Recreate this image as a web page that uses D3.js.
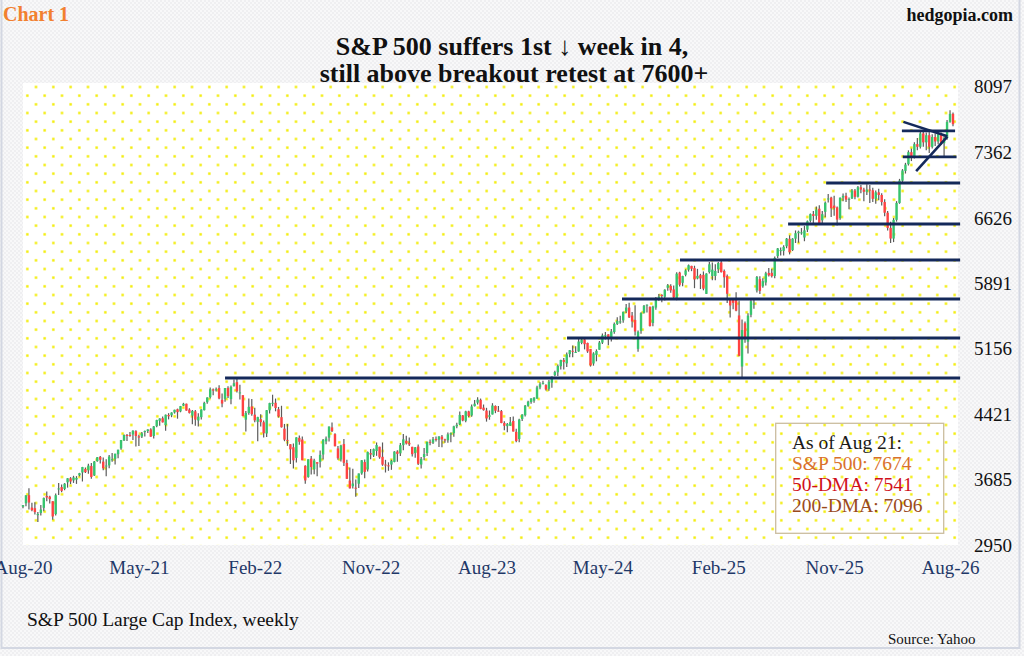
<!DOCTYPE html>
<html>
<head>
<meta charset="utf-8">
<script src="https://cdn.jsdelivr.net/npm/d3@7/dist/d3.min.js"></script>
<style>
  html, body { margin: 0; padding: 0; background: #f6f6f7; }
  svg { display: block; }
  text { font-family: "Liberation Serif", "Times New Roman", serif; }
</style>
</head>
<body>
<svg id="chart" width="1024" height="656"></svg>
<script>
// ---------------- DATA ----------------
// Weekly bars, first week ending 2020-08-21, last week ending 2026-08-21
const firstWeek = "2020-08-21";

const opens = [3380,3418,3509,3370,3363,3285,3310,3367,3500,3493,
3441,3297,3583,3600,3579,3654,3699,3675,3684,3733,
3764,3803,3788,3836,3731,3892,3939,3886,3842,3844,
3913,3917,3969,4034,4124,4185,4185,4191,4228,4170,
4168,4217,4230,4248,4174,4284,4344,4373,4297,4410,
4406,4438,4474,4450,4514,4536,4470,4403,4450,4348,
4385,4464,4553,4610,4697,4689,4712,4579,4592,4713,
4588,4733,4778,4655,4632,4357,4432,4505,4413,4333,
4363,4328,4202,4462,4541,4547,4474,4385,4256,4130,
4081,4047,3928,4153,4134,3839,3714,3920,3800,3880,
3883,3966,4113,4155,4270,4195,4034,3910,4083,3871,
3674,3610,3593,3638,3754,3881,3798,3982,3956,4005,
4053,3940,3853,3844,3853,3883,3999,3979,4071,4120,
4096,4052,3982,4055,3853,3938,3982,4108,4098,4140,
4132,4167,4136,4126,4191,4205,4282,4305,4405,4344,
4450,4404,4509,4548,4580,4492,4459,4389,4415,4511,
4458,4453,4320,4284,4289,4342,4220,4140,4364,4407,
4512,4555,4570,4593,4719,4759,4745,4703,4772,4856,
4889,4957,5026,4989,5093,5130,5111,5123,5219,5258,
5218,5150,4987,5084,5142,5222,5305,5315,5283,5341,
5431,5459,5472,5572,5615,5526,5476,5152,5354,5557,
5637,5624,5442,5615,5712,5757,5737,5838,5858,5819,
5723,6008,5893,5983,6040,6083,6058,5942,5979,5983,
5769,6014,5969,5970,6046,6122,6026,5969,5705,5706,
5719,5527,4953,5440,5232,5534,5655,5808,5934,5854,
5897,6004,6005,5970,6193,6255,6252,6304,6388,6261,
6389,6450,6457,6402,6490,6590,6664,6645,6725,6595,
6690,6830,6850,6760,6740,6620,6850,6870,6830,6840,
6930,6860,6966,6940,6915,6940,6932,6836,6909,6879,
6800,6680,6510,6390,6600,6790,7040,7150,7225,7360,
7300,7450,7420,7570,7470,7550,7420,7530,7480,7560,
7460,7520,7700,7790];

const highs = [3399,3509,3588,3425,3429,3321,3398,3482,3550,3502,
3441,3529,3645,3629,3645,3700,3712,3727,3723,3760,
3827,3819,3861,3870,3894,3937,3950,3931,3914,3960,
3983,3975,4020,4130,4191,4195,4218,4238,4238,4187,
4219,4234,4249,4262,4286,4356,4372,4393,4415,4430,
4440,4469,4481,4511,4546,4537,4486,4466,4465,4429,
4475,4559,4608,4718,4708,4718,4744,4652,4713,4731,
4741,4808,4819,4749,4632,4454,4595,4590,4490,4390,
4417,4347,4465,4546,4637,4594,4500,4513,4309,4308,
4081,4090,4160,4178,4168,3845,3913,3950,3918,3880,
4012,4140,4167,4281,4325,4204,4062,4076,4140,3907,
3820,3807,3685,3753,3905,3911,4000,4029,4034,4101,
4053,4101,3906,3878,3907,4003,4015,4095,4195,4176,
4156,4052,4050,4079,3939,4040,4110,4133,4163,4169,
4170,4186,4143,4213,4213,4290,4323,4449,4408,4458,
4456,4528,4578,4608,4594,4527,4490,4460,4542,4517,
4511,4466,4338,4319,4386,4393,4256,4366,4418,4521,
4569,4598,4610,4739,4778,4793,4755,4802,4842,4907,
4975,5030,5048,5111,5140,5189,5180,5262,5265,5264,
5222,5150,5114,5146,5240,5325,5342,5315,5376,5448,
5506,5524,5570,5656,5670,5566,5640,5358,5564,5644,
5651,5626,5636,5734,5767,5766,5822,5879,5878,5863,
6013,6018,5972,6045,6099,6085,6085,6050,5994,6021,
6001,6128,6120,6101,6127,6147,6044,5987,5712,5715,
5787,5695,5482,5460,5551,5700,5720,5969,5968,5944,
6017,6059,6051,6188,6284,6290,6316,6395,6427,6395,
6481,6479,6508,6533,6593,6672,6699,6750,6765,6700,
6807,6890,6860,6870,6750,6850,6895,6905,6850,6945,
6945,6980,6990,6960,7000,6990,6960,6930,6950,6900,
6830,6700,6580,6620,6810,7060,7170,7240,7380,7400,
7470,7520,7600,7610,7580,7590,7560,7570,7580,7580,
7540,7720,7830,7805];

const lows = [3363,3386,3349,3330,3292,3209,3280,3330,3441,3415,
3234,3280,3511,3543,3565,3594,3633,3647,3636,3720,
3663,3757,3750,3694,3725,3885,3865,3789,3723,3812,
3885,3853,3923,4020,4118,4118,4165,4128,4056,4061,
4152,4168,4208,4165,4145,4271,4290,4325,4233,4360,
4385,4425,4368,4440,4509,4458,4427,4305,4289,4279,
4360,4460,4537,4595,4630,4672,4585,4495,4558,4600,
4531,4729,4662,4582,4396,4223,4411,4401,4327,4115,
4279,4157,4161,4425,4507,4451,4381,4268,4115,4063,
3859,3810,3875,4074,3900,3637,3705,3741,3743,3721,
3819,3911,4080,4113,4219,4058,3907,3886,3838,3693,
3585,3584,3491,3590,3738,3698,3775,3914,3938,3951,
3918,3839,3764,3783,3794,3878,3885,3948,4015,4079,
4060,3944,3929,3847,3809,3900,3950,4069,4085,4113,
4049,4048,4099,4099,4103,4166,4260,4298,4340,4329,
4385,4389,4505,4528,4474,4458,4335,4356,4415,4430,
4447,4317,4238,4216,4286,4223,4104,4103,4342,4393,
4501,4537,4546,4593,4699,4751,4683,4682,4714,4845,
4846,4919,4920,4947,5057,5058,5104,5118,5204,5146,
5107,4953,4963,5012,5142,5205,5256,5192,5234,5321,
5420,5433,5445,5555,5497,5391,5303,5119,5322,5550,
5560,5403,5406,5590,5691,5674,5696,5805,5783,5706,
5697,5853,5854,5966,6019,6024,5833,5932,5824,5809,
5773,5999,5923,5923,6004,6009,5837,5667,5505,5597,
5573,5069,4835,5220,5101,5506,5603,5785,5767,5837,
5862,5964,5953,5944,6171,6201,6201,6280,6212,6250,
6340,6343,6433,6360,6464,6569,6551,6600,6550,6551,
6630,6795,6631,6646,6538,6600,6810,6800,6720,6835,
6830,6850,6900,6810,6880,6790,6800,6780,6820,6760,
6640,6480,6340,6350,6580,6780,7010,7120,7210,7260,
7290,7380,7400,7420,7380,7350,7400,7430,7450,7440,
7310,7500,7690,7650];

const closes = [3397,3508,3427,3341,3319,3298,3348,3477,3484,3465,
3270,3509,3585,3558,3638,3699,3663,3709,3703,3756,
3825,3768,3841,3714,3887,3935,3907,3811,3842,3943,
3913,3975,4020,4129,4185,4180,4181,4233,4174,4156,
4204,4230,4247,4166,4281,4352,4370,4327,4412,4395,
4437,4468,4442,4509,4535,4459,4433,4455,4357,4391,
4471,4545,4605,4698,4683,4698,4595,4538,4712,4621,
4726,4766,4677,4663,4398,4432,4501,4419,4349,4385,
4329,4204,4463,4543,4546,4488,4393,4272,4132,4123,
4024,3901,4158,4109,3901,3675,3912,3825,3899,3863,
3962,4130,4145,4280,4228,4058,3924,4067,3873,3693,
3586,3640,3583,3753,3901,3771,3993,3965,4026,4072,
3934,3852,3845,3840,3895,3999,3973,4071,4136,4090,
4079,3970,4046,3862,3917,3971,4109,4105,4138,4134,
4169,4136,4124,4192,4205,4282,4299,4410,4348,4450,
4399,4505,4536,4582,4478,4464,4370,4406,4516,4457,
4450,4320,4288,4309,4328,4224,4117,4358,4415,4514,
4559,4595,4604,4719,4755,4770,4697,4784,4840,4891,
4959,5027,5006,5089,5137,5124,5117,5234,5254,5204,
5123,4967,5100,5128,5223,5303,5305,5278,5347,5432,
5465,5460,5567,5615,5505,5459,5347,5344,5554,5635,
5648,5408,5626,5703,5738,5751,5815,5865,5808,5729,
5996,5871,5969,6032,6090,6051,5931,5971,5942,5827,
5997,6101,6041,6026,6115,6013,5955,5770,5639,5668,
5581,5074,5363,5283,5525,5687,5660,5958,5803,5912,
6000,5977,5968,6173,6279,6260,6297,6389,6238,6389,
6450,6467,6460,6482,6584,6664,6644,6716,6553,6664,
6792,6840,6729,6734,6603,6849,6870,6827,6834,6930,
6858,6966,6940,6915,6939,6932,6836,6909,6879,6800,
6680,6510,6390,6600,6790,7040,7155,7220,7360,7300,
7450,7420,7570,7470,7550,7420,7530,7480,7560,7460,
7520,7700,7790,7674];

// axis labels
const yTicks = [2950, 3685, 4421, 5156, 5891, 6626, 7362, 8097];
const xTickLabels = ["Aug-20","May-21","Feb-22","Nov-22","Aug-23","May-24","Feb-25","Nov-25","Aug-26"];
const xTickEvery = 39; // weeks between labels

// horizontal breakout / support levels: value and week index where drawn from
const levelValues = [4825, 5274, 5711, 6149, 6554, 7014];
const levelStarts = [68, 183.1, 201.6, 221.1, 257.5, 270.3];
// consolidation box (top, bottom) and triangle
const boxValues = [7598, 7306];
const boxStarts = [295.8, 296.1];
const boxEnds = [313.7, 314.2];
const triangleLines = [
  [[296.3, 7700], [311.1, 7538]],
  [[300.6, 7148], [311.1, 7533]]
];

const legendLines = [
  {text: "As of Aug 21:", color: "#1a1a1a"},
  {text: "S&P 500: 7674", color: "#d9712c"},
  {text: "50-DMA: 7541", color: "#d0101a"},
  {text: "200-DMA: 7096", color: "#9a4a1c"}
];

// ---------------- CHART ----------------
const W = 1024, H = 656;
const plot = {left: 23, right: 958, top: 83, bottom: 545};
const svg = d3.select("#chart");
const defs = svg.append("defs");

// page background texture
const bg = defs.append("pattern").attr("id", "bgpat")
  .attr("patternUnits", "userSpaceOnUse").attr("width", 4).attr("height", 4);
bg.append("rect").attr("width", 4).attr("height", 4).attr("fill", "#f8f8f9");
bg.append("rect").attr("width", 2).attr("height", 2).attr("fill", "#efeff1");
bg.append("rect").attr("x", 2).attr("y", 2).attr("width", 2).attr("height", 2).attr("fill", "#efeff1");

// plot-area yellow dot grid
const step = 17.333;
const dots = defs.append("pattern").attr("id", "dotpat")
  .attr("patternUnits", "userSpaceOnUse")
  .attr("x", 23).attr("y", 82.667).attr("width", step).attr("height", step);
dots.append("rect").attr("x", 11.8).attr("y", 3.133).attr("width", 2.4).attr("height", 2.4).attr("fill", "#f2ec00");
dots.append("rect").attr("x", 3.133).attr("y", 11.8).attr("width", 2.4).attr("height", 2.4).attr("fill", "#f2ec00");

svg.append("rect").attr("width", W).attr("height", H).attr("fill", "url(#bgpat)");
svg.append("rect").attr("x", 1.5).attr("y", -5).attr("width", 1018).attr("height", 653)
  .attr("fill", "none").attr("stroke", "#d3d7e2").attr("stroke-width", 2);

svg.append("rect").attr("x", plot.left).attr("y", plot.top)
  .attr("width", plot.right - plot.left).attr("height", plot.bottom - plot.top)
  .attr("fill", "#ffffff");
svg.append("rect").attr("x", plot.left).attr("y", plot.top)
  .attr("width", plot.right - plot.left).attr("height", plot.bottom - plot.top)
  .attr("fill", "url(#dotpat)");

const n = closes.length;
const x = d3.scaleLinear().domain([0, n - 1]).range([23, 953]);
const y = d3.scaleLinear().domain([2950, 8097]).range([545, 86.5]);

const weekDate = i => d3.timeDay.offset(d3.timeParse("%Y-%m-%d")(firstWeek), 7 * i);

// bars
const bars = svg.append("g");
const idx = d3.range(n);
bars.selectAll("line.wick").data(idx).join("line")
  .attr("class", "wick")
  .attr("x1", i => x(i)).attr("x2", i => x(i))
  .attr("y1", i => y(Math.max(highs[i], opens[i], closes[i])))
  .attr("y2", i => y(Math.min(lows[i], opens[i], closes[i])))
  .attr("stroke", "#5b5b5b").attr("stroke-width", 1.2);
bars.selectAll("rect.body").data(idx).join("rect")
  .attr("class", "body")
  .attr("x", i => x(i) - 1.2).attr("width", 2.4)
  .attr("y", i => y(Math.max(opens[i], closes[i])))
  .attr("height", i => Math.max(1, y(Math.min(opens[i], closes[i])) - y(Math.max(opens[i], closes[i]))))
  .attr("fill", i => closes[i] >= opens[i] ? "#36c46e" : "#ff4242");

// support / resistance lines
const lines = svg.append("g").attr("stroke", "#14295a").attr("stroke-linecap", "butt");
levelValues.forEach((v, k) => {
  lines.append("line")
    .attr("x1", x(levelStarts[k])).attr("x2", x(315.4))
    .attr("y1", y(v)).attr("y2", y(v)).attr("stroke-width", 3);
});
boxValues.forEach((v, k) => {
  lines.append("line")
    .attr("x1", x(boxStarts[k])).attr("x2", x(boxEnds[k]))
    .attr("y1", y(v)).attr("y2", y(v)).attr("stroke-width", 2.8);
});
triangleLines.forEach(seg => {
  lines.append("line")
    .attr("x1", x(seg[0][0])).attr("y1", y(seg[0][1]))
    .attr("x2", x(seg[1][0])).attr("y2", y(seg[1][1]))
    .attr("stroke-width", 2.6);
});

// y axis (right)
const yAxis = svg.append("g").attr("transform", `translate(${plot.right},0)`)
  .call(d3.axisRight(y).tickValues(yTicks).tickSize(0).tickPadding(16).tickFormat(d => String(d)));
yAxis.select(".domain").remove();
yAxis.selectAll("text").attr("font-size", 19).attr("fill", "#111")
  .attr("font-family", "Liberation Serif, serif").attr("dy", "0.34em");

// x axis (bottom)
const xAxis = svg.append("g").attr("transform", `translate(0,${plot.bottom})`)
  .call(d3.axisBottom(x).tickValues(xTickLabels.map((_, k) => k * xTickEvery))
    .tickSize(0).tickPadding(15.5)
    .tickFormat(d => d3.timeFormat("%b-%y")(weekDate(d))));
xAxis.select(".domain").remove();
xAxis.selectAll("text").attr("font-size", 19).attr("fill", "#1f3868")
  .attr("font-family", "Liberation Serif, serif");

// legend box
const lg = svg.append("g");
lg.append("rect").attr("x", 775.7).attr("y", 423.3).attr("width", 168).attr("height", 110)
  .attr("fill", "none").attr("stroke", "#cbbd9f").attr("stroke-width", 1.3);
legendLines.forEach((d, k) => {
  lg.append("text").attr("x", 792).attr("y", 449 + k * 21)
    .attr("font-size", 19.5).attr("fill", d.color).text(d.text);
});

// titles and notes
svg.append("text").attr("x", 3).attr("y", 21).attr("font-size", 20).attr("font-weight", "bold")
  .attr("fill", "#f2802f").text("Chart 1");
svg.append("text").attr("x", 1013).attr("y", 21).attr("text-anchor", "end").attr("font-size", 18)
  .attr("font-weight", "bold").attr("fill", "#111").text("hedgopia.com");
svg.append("text").attr("x", 512).attr("y", 55).attr("text-anchor", "middle").attr("font-size", 26)
  .attr("font-weight", "bold").attr("fill", "#111").text("S&P 500 suffers 1st \u2193 week in 4,");
svg.append("text").attr("x", 514).attr("y", 82).attr("text-anchor", "middle").attr("font-size", 26)
  .attr("font-weight", "bold").attr("fill", "#111").text("still above breakout retest at 7600+");
svg.append("text").attr("x", 27).attr("y", 626).attr("font-size", 19.5).attr("fill", "#111")
  .text("S&P 500 Large Cap Index, weekly");
svg.append("text").attr("x", 888).attr("y", 644).attr("font-size", 15).attr("fill", "#111")
  .text("Source: Yahoo");
</script>
</body>
</html>
